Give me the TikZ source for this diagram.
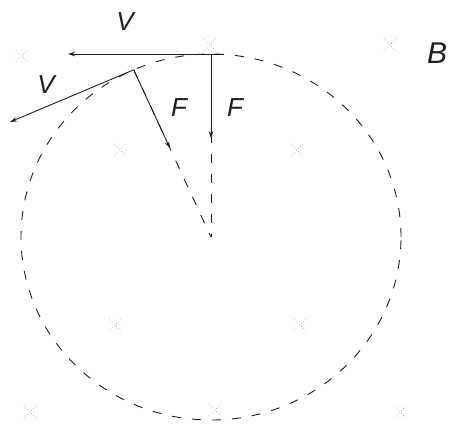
\documentclass[tikz,border=0pt]{standalone}
\usepackage{fontspec}
\setsansfont{Liberation Sans}
\usetikzlibrary{arrows.meta, positioning, calc}
\definecolor{cink}{HTML}{1E1E1E}
\definecolor{cgrey}{HTML}{A0A0A0}
\tikzset{
  every picture/.style={line width=0.9pt},
  vec/.style={-{Stealth[open, length=7pt, width=4.5pt]}, draw=cink},
  guide/.style={draw=cink, dash pattern=on 9pt off 11pt},
  lbl/.style={font=\sffamily\itshape\fontsize{26}{26}\selectfont, text=cink, inner sep=0pt},
  regmark/.style={draw=cgrey, dotted, line width=0.6pt},
}

\begin{document}
\begin{tikzpicture}[x=1pt, y=-1pt]
  \useasboundingbox (0,0) rectangle (449,425);

  % orbit
  \coordinate (O) at (211,237);
  \draw[guide] (O) ellipse [x radius=190pt, y radius=183pt];
  \coordinate (A) at ($(O)+(90:190pt and 183pt)$);
  \coordinate (P) at ($(O)+(114:190pt and 183pt)$);

  % radii
  \draw[guide] (A) -- (O);
  \draw[guide] (P) -- (O);

  % vectors at the top
  \coordinate (vA) at (68,54);
  \coordinate (fA) at ($(A)!0.46!(O)$);
  \draw[vec, shorten <=-12pt] (A) -- (vA);
  \draw[vec] (A) -- (fA);

  % vectors further on
  \coordinate (vP) at (10,122);
  \coordinate (fP) at ($(P)!0.47!(O)$);
  \draw[vec] (P) -- (vP);
  \draw[vec] (P) -- (fP);

  % labels
  \node[lbl] (lvA) at (125,22) {V};
  \node[lbl] (lvP) at (46,85) {V};
  \node[lbl] (lfP) at (179,108) {F};
  \node[lbl] (lfA) at (235,108) {F};
  \node[lbl, font=\sffamily\itshape\fontsize{30}{30}\selectfont] (lB) at (437,53) {B};

  % faint marks
  \foreach \x/\y in {22/56, 210/45, 390/45, 120/150, 297/150, 115/325, 300/325, 30/412, 215/410, 400/412}
    \draw[regmark] (\x,\y) +(-6,-6) -- +(6,6) +(-6,6) -- +(6,-6);
\end{tikzpicture}
\end{document}
